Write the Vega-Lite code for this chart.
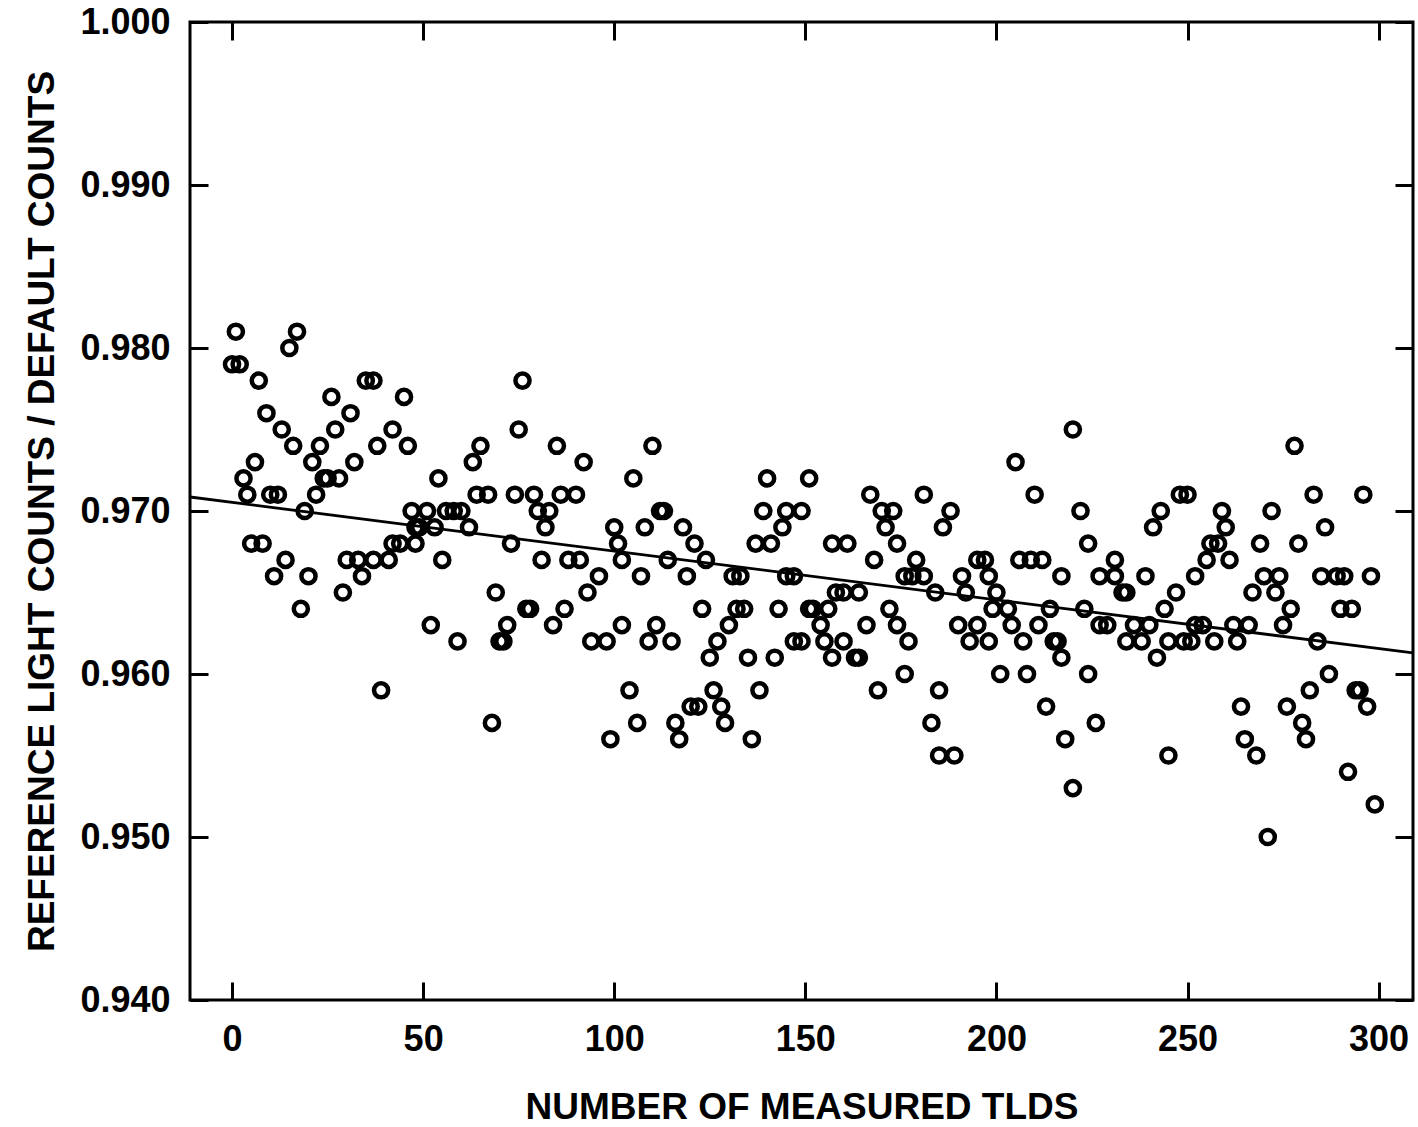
{
 "$schema": "https://vega.github.io/schema/vega-lite/v6.json",
 "width": 1223, "height": 978,
 "autosize": {"type": "none"},
 "padding": {"left": 190, "top": 22, "right": 5, "bottom": 127},
 "background": "white",
 "config": {
  "view": {"stroke": "black", "strokeWidth": 3},
  "axis": {"labelFont": "Liberation Sans", "labelFontWeight": "bold", "labelFontSize": 36, "labelColor": "black",
   "titleFont": "Liberation Sans", "titleFontWeight": "bold", "titleFontSize": 37, "titleColor": "black",
   "grid": false, "domain": false, "tickColor": "black", "tickWidth": 3, "tickSize": -18}
 },
 "datasets": {
  "pts": [
   {"n":1,"ratio":0.981},{"n":17,"ratio":0.981},{"n":15,"ratio":0.980},{"n":0,"ratio":0.979},{"n":2,"ratio":0.979},
   {"n":7,"ratio":0.978},{"n":35,"ratio":0.978},{"n":37,"ratio":0.978},{"n":26,"ratio":0.977},{"n":45,"ratio":0.977},
   {"n":9,"ratio":0.976},{"n":31,"ratio":0.976},{"n":13,"ratio":0.975},{"n":27,"ratio":0.975},{"n":42,"ratio":0.975},
   {"n":16,"ratio":0.974},{"n":23,"ratio":0.974},{"n":38,"ratio":0.974},{"n":46,"ratio":0.974},{"n":6,"ratio":0.973},
   {"n":21,"ratio":0.973},{"n":32,"ratio":0.973},{"n":3,"ratio":0.972},{"n":24,"ratio":0.972},{"n":25,"ratio":0.972},
   {"n":28,"ratio":0.972},{"n":4,"ratio":0.971},{"n":10,"ratio":0.971},{"n":12,"ratio":0.971},{"n":22,"ratio":0.971},
   {"n":19,"ratio":0.970},{"n":47,"ratio":0.970},{"n":48,"ratio":0.969},{"n":5,"ratio":0.968},{"n":8,"ratio":0.968},
   {"n":42,"ratio":0.968},{"n":44,"ratio":0.968},{"n":48,"ratio":0.968},{"n":14,"ratio":0.967},{"n":30,"ratio":0.967},
   {"n":33,"ratio":0.967},{"n":37,"ratio":0.967},{"n":41,"ratio":0.967},{"n":11,"ratio":0.966},{"n":20,"ratio":0.966},
   {"n":34,"ratio":0.966},{"n":29,"ratio":0.965},{"n":18,"ratio":0.964},{"n":39,"ratio":0.959},
   {"n":76,"ratio":0.978},{"n":75,"ratio":0.975},{"n":65,"ratio":0.974},{"n":85,"ratio":0.974},{"n":63,"ratio":0.973},
   {"n":92,"ratio":0.973},{"n":54,"ratio":0.972},{"n":64,"ratio":0.971},{"n":67,"ratio":0.971},{"n":74,"ratio":0.971},
   {"n":79,"ratio":0.971},{"n":86,"ratio":0.971},{"n":90,"ratio":0.971},{"n":51,"ratio":0.970},{"n":56,"ratio":0.970},
   {"n":58,"ratio":0.970},{"n":60,"ratio":0.970},{"n":80,"ratio":0.970},{"n":83,"ratio":0.970},{"n":49,"ratio":0.969},
   {"n":53,"ratio":0.969},{"n":62,"ratio":0.969},{"n":82,"ratio":0.969},{"n":100,"ratio":0.969},{"n":73,"ratio":0.968},
   {"n":101,"ratio":0.968},{"n":55,"ratio":0.967},{"n":81,"ratio":0.967},{"n":88,"ratio":0.967},{"n":91,"ratio":0.967},
   {"n":102,"ratio":0.967},{"n":96,"ratio":0.966},{"n":93,"ratio":0.965},{"n":69,"ratio":0.965},{"n":77,"ratio":0.964},
   {"n":78,"ratio":0.964},{"n":87,"ratio":0.964},{"n":72,"ratio":0.963},{"n":84,"ratio":0.963},{"n":52,"ratio":0.963},
   {"n":59,"ratio":0.962},{"n":70,"ratio":0.962},{"n":71,"ratio":0.962},{"n":94,"ratio":0.962},{"n":98,"ratio":0.962},
   {"n":102,"ratio":0.963},{"n":68,"ratio":0.957},{"n":99,"ratio":0.956},
   {"n":110,"ratio":0.974},{"n":105,"ratio":0.972},{"n":140,"ratio":0.972},{"n":151,"ratio":0.972},{"n":112,"ratio":0.970},
   {"n":113,"ratio":0.970},{"n":139,"ratio":0.970},{"n":145,"ratio":0.970},{"n":149,"ratio":0.970},{"n":108,"ratio":0.969},
   {"n":118,"ratio":0.969},{"n":144,"ratio":0.969},{"n":121,"ratio":0.968},{"n":137,"ratio":0.968},{"n":141,"ratio":0.968},
   {"n":114,"ratio":0.967},{"n":124,"ratio":0.967},{"n":107,"ratio":0.966},{"n":119,"ratio":0.966},{"n":131,"ratio":0.966},
   {"n":133,"ratio":0.966},{"n":145,"ratio":0.966},{"n":147,"ratio":0.966},{"n":123,"ratio":0.964},{"n":132,"ratio":0.964},
   {"n":134,"ratio":0.964},{"n":143,"ratio":0.964},{"n":151,"ratio":0.964},{"n":111,"ratio":0.963},{"n":130,"ratio":0.963},
   {"n":109,"ratio":0.962},{"n":115,"ratio":0.962},{"n":127,"ratio":0.962},{"n":147,"ratio":0.962},{"n":149,"ratio":0.962},
   {"n":125,"ratio":0.961},{"n":135,"ratio":0.961},{"n":142,"ratio":0.961},{"n":104,"ratio":0.959},{"n":126,"ratio":0.959},
   {"n":138,"ratio":0.959},{"n":120,"ratio":0.958},{"n":122,"ratio":0.958},{"n":128,"ratio":0.958},{"n":106,"ratio":0.957},
   {"n":116,"ratio":0.957},{"n":129,"ratio":0.957},{"n":117,"ratio":0.956},{"n":136,"ratio":0.956},
   {"n":167,"ratio":0.971},{"n":181,"ratio":0.971},{"n":170,"ratio":0.970},{"n":173,"ratio":0.970},{"n":188,"ratio":0.970},
   {"n":171,"ratio":0.969},{"n":186,"ratio":0.969},{"n":157,"ratio":0.968},{"n":161,"ratio":0.968},{"n":174,"ratio":0.968},
   {"n":168,"ratio":0.967},{"n":179,"ratio":0.967},{"n":195,"ratio":0.967},{"n":197,"ratio":0.967},{"n":176,"ratio":0.966},
   {"n":178,"ratio":0.966},{"n":181,"ratio":0.966},{"n":191,"ratio":0.966},{"n":198,"ratio":0.966},{"n":158,"ratio":0.965},
   {"n":160,"ratio":0.965},{"n":164,"ratio":0.965},{"n":184,"ratio":0.965},{"n":192,"ratio":0.965},{"n":200,"ratio":0.965},
   {"n":152,"ratio":0.964},{"n":156,"ratio":0.964},{"n":172,"ratio":0.964},{"n":199,"ratio":0.964},{"n":154,"ratio":0.963},
   {"n":166,"ratio":0.963},{"n":174,"ratio":0.963},{"n":190,"ratio":0.963},{"n":195,"ratio":0.963},{"n":155,"ratio":0.962},
   {"n":160,"ratio":0.962},{"n":177,"ratio":0.962},{"n":193,"ratio":0.962},{"n":198,"ratio":0.962},{"n":157,"ratio":0.961},
   {"n":163,"ratio":0.961},{"n":164,"ratio":0.961},{"n":201,"ratio":0.960},{"n":176,"ratio":0.960},{"n":169,"ratio":0.959},
   {"n":185,"ratio":0.959},{"n":183,"ratio":0.957},{"n":185,"ratio":0.955},{"n":189,"ratio":0.955},
   {"n":220,"ratio":0.975},{"n":205,"ratio":0.973},{"n":210,"ratio":0.971},{"n":222,"ratio":0.970},{"n":243,"ratio":0.970},
   {"n":248,"ratio":0.971},{"n":250,"ratio":0.971},{"n":241,"ratio":0.969},{"n":224,"ratio":0.968},{"n":206,"ratio":0.967},
   {"n":209,"ratio":0.967},{"n":212,"ratio":0.967},{"n":231,"ratio":0.967},{"n":217,"ratio":0.966},{"n":227,"ratio":0.966},
   {"n":231,"ratio":0.966},{"n":239,"ratio":0.966},{"n":252,"ratio":0.966},{"n":233,"ratio":0.965},{"n":234,"ratio":0.965},
   {"n":247,"ratio":0.965},{"n":203,"ratio":0.964},{"n":214,"ratio":0.964},{"n":223,"ratio":0.964},{"n":244,"ratio":0.964},
   {"n":204,"ratio":0.963},{"n":211,"ratio":0.963},{"n":227,"ratio":0.963},{"n":229,"ratio":0.963},{"n":236,"ratio":0.963},
   {"n":240,"ratio":0.963},{"n":252,"ratio":0.963},{"n":207,"ratio":0.962},{"n":215,"ratio":0.962},{"n":216,"ratio":0.962},
   {"n":234,"ratio":0.962},{"n":238,"ratio":0.962},{"n":245,"ratio":0.962},{"n":249,"ratio":0.962},{"n":251,"ratio":0.962},
   {"n":217,"ratio":0.961},{"n":242,"ratio":0.961},{"n":208,"ratio":0.960},{"n":224,"ratio":0.960},{"n":213,"ratio":0.958},
   {"n":226,"ratio":0.957},{"n":218,"ratio":0.956},{"n":245,"ratio":0.955},{"n":220,"ratio":0.953},
   {"n":278,"ratio":0.974},{"n":283,"ratio":0.971},{"n":296,"ratio":0.971},{"n":259,"ratio":0.970},{"n":272,"ratio":0.970},
   {"n":260,"ratio":0.969},{"n":286,"ratio":0.969},{"n":256,"ratio":0.968},{"n":258,"ratio":0.968},{"n":269,"ratio":0.968},
   {"n":279,"ratio":0.968},{"n":255,"ratio":0.967},{"n":261,"ratio":0.967},{"n":270,"ratio":0.966},{"n":274,"ratio":0.966},
   {"n":285,"ratio":0.966},{"n":289,"ratio":0.966},{"n":291,"ratio":0.966},{"n":298,"ratio":0.966},{"n":267,"ratio":0.965},
   {"n":273,"ratio":0.965},{"n":277,"ratio":0.964},{"n":290,"ratio":0.964},{"n":293,"ratio":0.964},{"n":275,"ratio":0.963},
   {"n":254,"ratio":0.963},{"n":262,"ratio":0.963},{"n":266,"ratio":0.963},{"n":257,"ratio":0.962},{"n":263,"ratio":0.962},
   {"n":284,"ratio":0.962},{"n":287,"ratio":0.960},{"n":282,"ratio":0.959},{"n":294,"ratio":0.959},{"n":295,"ratio":0.959},
   {"n":264,"ratio":0.958},{"n":276,"ratio":0.958},{"n":297,"ratio":0.958},{"n":280,"ratio":0.957},{"n":265,"ratio":0.956},
   {"n":281,"ratio":0.956},{"n":268,"ratio":0.955},{"n":292,"ratio":0.954},{"n":299,"ratio":0.952},{"n":271,"ratio":0.950}
  ],
  "fit": [{"n": -11, "ratio": 0.97086}, {"n": 309, "ratio": 0.96129}]
 },
 "layer": [
  {
   "data": {"name": "pts"},
   "mark": {"type": "point", "filled": false, "stroke": "black", "strokeWidth": 4.5, "size": 200, "opacity": 1},
   "encoding": {
    "x": {"field": "n", "type": "quantitative", "scale": {"domain": [-11, 309], "nice": false, "zero": false},
     "axis": {"orient": "bottom", "values": [0, 50, 100, 150, 200, 250, 300], "title": "NUMBER OF MEASURED TLDS", "labelPadding": 40, "titlePadding": 32}},
    "y": {"field": "ratio", "type": "quantitative", "scale": {"domain": [0.94, 1.0], "nice": false, "zero": false},
     "axis": {"orient": "left", "values": [0.94, 0.95, 0.96, 0.97, 0.98, 0.99, 1.0], "format": ".3f", "title": "REFERENCE LIGHT COUNTS / DEFAULT COUNTS", "labelPadding": 38, "titlePadding": 18}}
   }
  },
  {
   "data": {"name": "fit"},
   "mark": {"type": "line", "color": "black", "strokeWidth": 2.8, "clip": true},
   "encoding": {
    "x": {"field": "n", "type": "quantitative", "axis": {"orient": "top", "values": [0, 50, 100, 150, 200, 250, 300], "labels": false, "title": null}},
    "y": {"field": "ratio", "type": "quantitative", "axis": {"orient": "right", "values": [0.94, 0.95, 0.96, 0.97, 0.98, 0.99, 1.0], "labels": false, "title": null}}
   }
  }
 ]
}
